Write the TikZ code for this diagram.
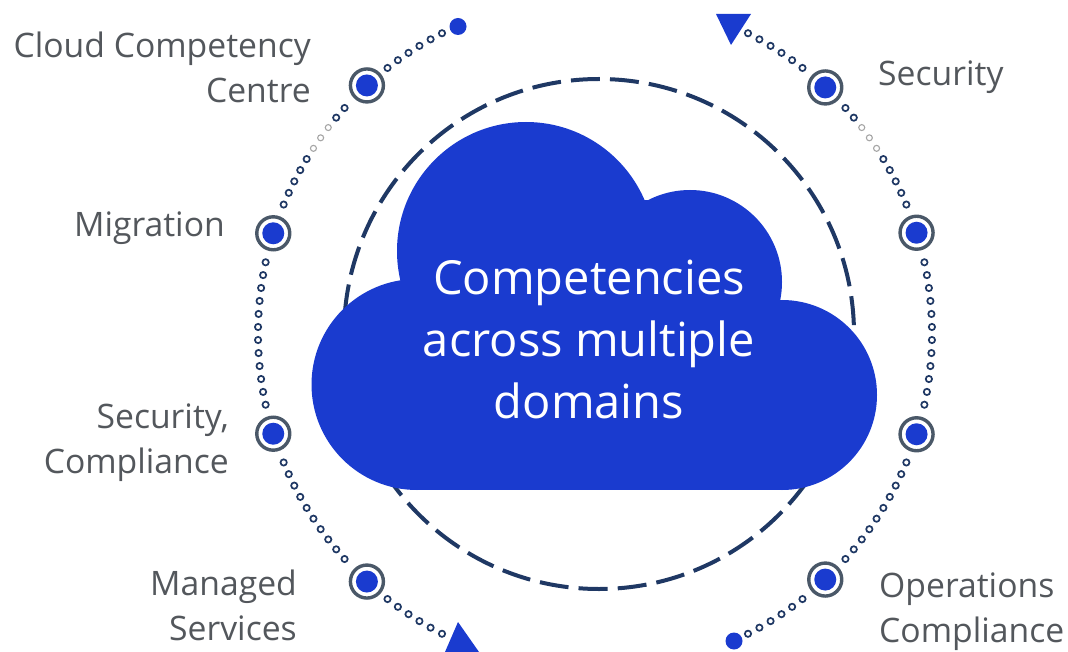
\documentclass[tikz,border=0pt]{standalone}
\usepackage{fontspec}
\setmainfont{Open Sans}
\definecolor{cloudblue}{HTML}{1A3BCF}
\definecolor{ringnavy}{HTML}{1F3864}
\definecolor{markgray}{HTML}{4A5868}
\definecolor{labelgray}{HTML}{53575C}
\tikzset{
    sidelabel/.style={text=labelgray, inner sep=0pt, font=\fontsize{33.7}{45}\selectfont},
    marker/.style={circle, draw=markgray, line width=3.4pt, fill=white, minimum size=33pt, inner sep=0pt},
    solid dot/.style={circle, draw=ringnavy, line width=1.7pt, fill=white, minimum size=6.3pt, inner sep=0pt},
    faded dot/.style={circle, draw=gray!70, line width=1.1pt, fill=white, minimum size=6pt, inner sep=0pt}
}
\begin{document}
\begin{tikzpicture}[x=1pt,y=-1pt]
    % variables
    \pgfmathsetmacro{\vCx}{595}
    \pgfmathsetmacro{\vCy}{333.5}
    \pgfmathsetmacro{\vOuter}{337}
    \pgfmathsetmacro{\vRing}{255}

    \useasboundingbox (0,0) rectangle (1068,652);

    % dashed ring
    \draw[ringnavy, line width=4pt, dash pattern=on 29pt off 10.08pt, dash phase=8.5pt]
        (599,589) arc[start angle=90, end angle=450, radius=\vRing];

    % cloud
    \foreach \vX/\vY/\vR in {417/384.5/105.5, 526/251/129, 690/282/92, 782/395/95} {
        \fill[cloudblue] (\vX,\vY) circle (\vR);
    }
    \fill[cloudblue] (417,300) rectangle (782,490);
    \fill[cloudblue] (500,200) rectangle (700,300);

    % dots
    \foreach \vFrom/\vTo/\vCount/\vStyle in {
        63/52/6/solid dot, 42/39.83/2/solid dot, 37.67/33.33/3/faded dot, 31.17/22.5/5/solid dot,
        12.2/-12.2/12/solid dot, -22.5/-42/10/solid dot, -52/-63/6/solid dot,
        117/128/6/solid dot, 138/140.17/2/solid dot, 142.33/146.67/3/faded dot, 148.83/157.5/5/solid dot,
        167.8/192.2/12/solid dot, 202.5/222/10/solid dot, 232/243/6/solid dot} {
        \foreach \i in {1,...,\vCount} {
            \pgfmathsetmacro{\vAngle}{\vFrom+(\i-1)*(\vTo-\vFrom)/(\vCount-1)}
            \node[\vStyle] at ({\vCx+\vOuter*cos(\vAngle)},{\vCy-\vOuter*sin(\vAngle)}) {};
        }
    }

    % markers
    \foreach \vName/\vAngle in {a/46.9, b/17.4, c/-17.4, d/-46.9, e/132.6, f/162.7, g/197.3, h/227.4} {
        \coordinate (\vName) at ({\vCx+\vOuter*cos(\vAngle)},{\vCy-\vOuter*sin(\vAngle)});
        \node[marker] (m\vName) at (\vName) {};
        \fill[cloudblue] (\vName) circle (11);
    }

    % ends
    \fill[cloudblue] (716,14) -- (751,14) -- (731,45) -- cycle;
    \fill[cloudblue] (458,622) -- (479,652) -- (445,652) -- cycle;
    \fill[cloudblue] (458,26.5) circle (8.5);
    \fill[cloudblue] (734,641) circle (8.5);

    % labels
    \node[sidelabel, anchor=east, align=right] (lCloud) at (311,67) {Cloud Competency\\Centre};
    \node[sidelabel, anchor=east, align=right] (lMigration) at (225,228) {Migration};
    \node[sidelabel, anchor=east, align=right] (lSecComp) at (229,443) {Security,\\Compliance};
    \node[sidelabel, anchor=east, align=right] (lManaged) at (297,605) {Managed\\Services};
    \node[sidelabel, anchor=west, align=left] (lSecurity) at (878,77) {Security};
    \node[sidelabel, anchor=west, align=left] (lOperations) at (879,612) {Operations\\Compliance};

    \node[text=white, inner sep=0pt, align=center, font=\fontsize{47}{62}\selectfont] (lCentre) at (589,339)
        {Competencies\\across multiple\\domains};
\end{tikzpicture}
\end{document}
